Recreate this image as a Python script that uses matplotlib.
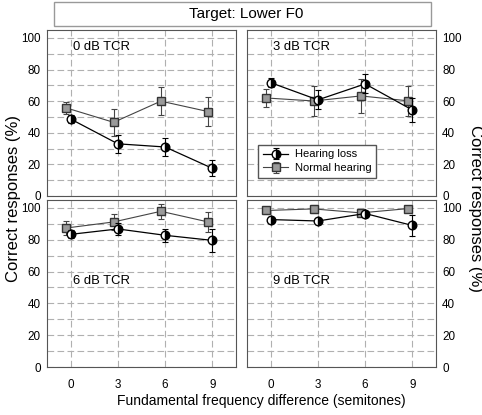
import numpy as np
import matplotlib
matplotlib.use("Agg")
import matplotlib.pyplot as plt
from matplotlib.patches import Rectangle

plt.rcParams['font.family'] = ['Liberation Sans', 'DejaVu Sans']

# semitone differences
f0_diff = [0, 3, 6, 9]
panel_names = ["0 dB TCR", "3 dB TCR", "6 dB TCR", "9 dB TCR"]

# hearing loss group, mean and error
hl_0 = [48.7, 33, 31, 17.5]
hl_0_err = [2.5, 5.5, 5.5, 5]
hl_3 = [71.7, 60.8, 70.9, 54.4]
hl_3_err = [3, 6, 6, 7.5]
hl_6 = [83.4, 86.8, 82.8, 79.6]
hl_6_err = [2.5, 4, 4, 7]
hl_9 = [92.7, 91.8, 96.5, 89]
hl_9_err = [1.5, 2, 1.5, 6.5]

# normal hearing group
nh_0 = [55.7, 46.6, 60, 53.4]
nh_0_err = [4, 8.5, 9, 9]
nh_3 = [62, 60.1, 63.3, 60.2]
nh_3_err = [5.5, 9.5, 10.5, 9.5]
nh_6 = [87.4, 91.2, 97.9, 91.2]
nh_6_err = [4.5, 5, 4.8, 6.5]
nh_9 = [98.4, 99.4, 96.9, 99.6]
nh_9_err = [2, 2.5, 1, 0]

hl_all = [(hl_0, hl_0_err), (hl_3, hl_3_err), (hl_6, hl_6_err), (hl_9, hl_9_err)]
nh_all = [(nh_0, nh_0_err), (nh_3, nh_3_err), (nh_6, nh_6_err), (nh_9, nh_9_err)]

fig = plt.figure(figsize=(4.82, 4.15), dpi=100)

W, H = 482.0, 415.0
pos = [(47, 30), (247, 30), (47, 200), (247, 200)]
axs = []
for i in range(4):
    x0, y0 = pos[i]
    h = 166 if i < 2 else 167
    ax = fig.add_axes([x0 / W, 1 - (y0 + h) / H, 189 / W, h / H])
    axs.append(ax)

x = np.array(f0_diff)
for i, ax in enumerate(axs):
    ax.set_xlim(-1.5, 10.5)
    ax.set_ylim(0, 105)
    ax.set_xticks(f0_diff)
    ax.set_yticks([0, 20, 40, 60, 80, 100])
    ax.set_yticks(np.arange(0, 105, 10), minor=True)
    ax.grid(True, which='both', axis='y', color='#b0b0b0', linestyle=(0, (6, 3)), linewidth=0.8)
    ax.grid(True, which='major', axis='x', color='#b0b0b0', linestyle=(0, (6, 3)), linewidth=0.8)
    ax.set_axisbelow(True)
    for s in ax.spines.values():
        s.set_color('#555555')
        s.set_linewidth(0.8)
    ax.tick_params(which='both', length=0, labelsize=8.4)
    ax.tick_params(axis='y', pad=4.5)
    ax.tick_params(axis='x', pad=8.5)

    nh, nh_e = nh_all[i]
    hl, hl_e = hl_all[i]
    ax.errorbar(x - 0.27, nh, yerr=nh_e, color='#444444', lw=0.8, elinewidth=0.8,
                capsize=2.5, capthick=0.8, marker='s', markersize=5.5,
                markerfacecolor='#9a9a9a', markeredgecolor='#333333',
                label='Normal hearing', zorder=3)
    ax.errorbar(x, hl, yerr=hl_e, color='black', lw=0.9, elinewidth=0.8,
                capsize=2.5, capthick=0.8, marker='o', markersize=6.2,
                fillstyle='right', markerfacecolor='black', markerfacecoloralt='white',
                markeredgecolor='black', label='Hearing loss', zorder=4)

    if i < 2:
        ax.tick_params(axis='x', labelbottom=False)
        ty = 0.90
    else:
        ty = 0.515
    if i % 2 == 1:
        ax.tick_params(axis='y', labelleft=False, labelright=True)
    ax.text(0.138, ty, panel_names[i], transform=ax.transAxes, fontsize=9.4,
            va='center', ha='left')

h_, l_ = axs[1].get_legend_handles_labels()
axs[1].legend(h_[::-1], l_[::-1], loc='lower left', bbox_to_anchor=(0.06, 0.11),
              fontsize=8, frameon=True, fancybox=False, edgecolor='#555555',
              handlelength=2.3, handletextpad=0.6, borderpad=0.4, labelspacing=0.35,
              borderaxespad=0, framealpha=1)

# title box
fig.patches.append(Rectangle((54 / W, 1 - 26 / H), 377 / W, 24 / H, transform=fig.transFigure,
                             facecolor='white', edgecolor='#999999', linewidth=1))
fig.text(246 / W, 1 - 14 / H, "Target: Lower F0", ha='center', va='center', fontsize=11)

fig.text(14 / W, 1 - 198 / H, "Correct responses (%)", rotation=90, ha='center', va='center', fontsize=12)
fig.text(475 / W, 1 - 208 / H, "Correct responses (%)", rotation=270, ha='center', va='center', fontsize=12)
fig.text(261 / W, 1 - 401 / H, "Fundamental frequency difference (semitones)", ha='center', va='center', fontsize=10)

fig.savefig("out.png", dpi=100)
